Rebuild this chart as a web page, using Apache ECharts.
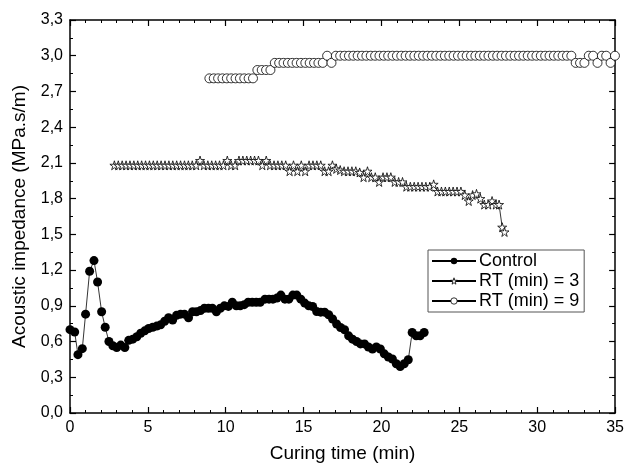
<!DOCTYPE html>
<html lang="en">
<head>
<meta charset="UTF-8">
<title>Acoustic impedance</title>
<script src="https://cdn.jsdelivr.net/npm/echarts@6/dist/echarts.min.js"></script>
</head>
<body style="margin:0">
<div id="main" style="width:627px;height:470px;"></div>
<script>
// [curing time (min), acoustic impedance (MPa.s/m)]
var control = [
  [0, 0.70], [0.3, 0.68], [0.51, 0.49], [0.79, 0.54], [1.0, 0.83], [1.26, 1.19], [1.54, 1.28], [1.77, 1.10],
  [2.03, 0.85], [2.26, 0.72], [2.5, 0.60], [2.75, 0.565], [3.0, 0.55], [3.26, 0.57], [3.52, 0.55], [3.77, 0.61],
  [4.03, 0.62], [4.29, 0.64], [4.54, 0.67], [4.8, 0.69], [5.05, 0.71], [5.31, 0.72], [5.57, 0.73], [5.82, 0.74],
  [6.08, 0.77], [6.33, 0.80], [6.59, 0.78], [6.84, 0.82], [7.1, 0.83], [7.35, 0.83], [7.61, 0.80], [7.87, 0.85],
  [8.12, 0.85], [8.38, 0.86], [8.63, 0.88], [8.89, 0.88], [9.14, 0.88], [9.4, 0.85], [9.65, 0.88], [9.91, 0.90],
  [10.17, 0.895], [10.42, 0.93], [10.68, 0.90], [10.93, 0.90], [11.19, 0.91], [11.44, 0.93], [11.7, 0.93], [11.96, 0.93],
  [12.21, 0.93], [12.52, 0.956], [12.78, 0.956], [13.03, 0.956], [13.29, 0.965], [13.54, 0.99], [13.8, 0.956], [14.05, 0.956],
  [14.31, 0.99], [14.56, 0.99], [14.82, 0.956], [15.07, 0.923], [15.33, 0.90], [15.58, 0.894], [15.84, 0.852], [16.1, 0.847],
  [16.35, 0.847], [16.61, 0.825], [16.86, 0.789], [17.12, 0.747], [17.37, 0.718], [17.63, 0.699], [17.89, 0.648], [18.14, 0.62],
  [18.4, 0.60], [18.65, 0.58], [18.91, 0.58], [19.16, 0.554], [19.42, 0.537], [19.67, 0.554], [19.93, 0.537], [20.18, 0.497],
  [20.44, 0.47], [20.7, 0.453], [20.95, 0.414], [21.2, 0.39], [21.46, 0.414], [21.72, 0.447], [21.97, 0.676], [22.23, 0.648],
  [22.48, 0.648], [22.74, 0.676]
];

var rt3 = [
  [2.85, 2.08], [3.1, 2.08], [3.35, 2.08], [3.6, 2.08], [3.85, 2.08], [4.1, 2.08], [4.35, 2.08], [4.6, 2.08],
  [4.85, 2.08], [5.1, 2.08], [5.35, 2.08], [5.6, 2.08], [5.85, 2.08], [6.1, 2.08], [6.35, 2.08], [6.6, 2.08],
  [6.85, 2.08], [7.1, 2.08], [7.35, 2.08], [7.6, 2.08], [7.85, 2.08], [8.1, 2.08], [8.35, 2.12], [8.6, 2.08],
  [8.85, 2.08], [9.1, 2.08], [9.35, 2.08], [9.6, 2.08], [9.85, 2.08], [10.1, 2.12], [10.35, 2.08], [10.6, 2.08],
  [10.85, 2.12], [11.1, 2.12], [11.35, 2.12], [11.6, 2.12], [11.85, 2.12], [12.1, 2.12], [12.35, 2.08], [12.6, 2.12],
  [12.85, 2.08], [13.1, 2.08], [13.35, 2.08], [13.6, 2.08], [13.85, 2.08], [14.1, 2.03], [14.35, 2.08], [14.6, 2.03],
  [14.85, 2.08], [15.1, 2.03], [15.35, 2.08], [15.6, 2.08], [15.85, 2.08], [16.1, 2.08], [16.35, 2.03], [16.6, 2.03],
  [16.85, 2.08], [17.1, 2.05], [17.35, 2.04], [17.6, 2.03], [17.85, 2.03], [18.1, 2.03], [18.35, 2.03], [18.6, 2.02],
  [18.85, 1.98], [19.1, 2.03], [19.35, 1.98], [19.6, 1.98], [19.85, 1.94], [20.1, 1.98], [20.35, 1.98], [20.6, 1.98],
  [20.85, 1.94], [21.1, 1.94], [21.35, 1.94], [21.6, 1.90], [21.85, 1.90], [22.1, 1.90], [22.35, 1.90], [22.6, 1.90],
  [22.85, 1.90], [23.1, 1.90], [23.35, 1.92], [23.6, 1.86], [23.85, 1.86], [24.1, 1.86], [24.35, 1.86], [24.6, 1.86],
  [24.85, 1.86], [25.1, 1.86], [25.35, 1.83], [25.6, 1.78], [25.85, 1.83], [26.1, 1.84], [26.35, 1.80], [26.6, 1.75],
  [26.85, 1.75], [27.1, 1.78], [27.35, 1.75], [27.55, 1.75], [27.75, 1.56], [27.9, 1.52]
];

var rt9 = [
  [8.95, 2.81], [9.23, 2.81], [9.51, 2.81], [9.79, 2.81], [10.07, 2.81], [10.35, 2.81], [10.63, 2.81], [10.91, 2.81],
  [11.19, 2.81], [11.47, 2.81], [11.75, 2.81], [12.03, 2.88], [12.31, 2.88], [12.59, 2.88], [12.87, 2.88], [13.15, 2.94],
  [13.43, 2.94], [13.71, 2.94], [13.99, 2.94], [14.27, 2.94], [14.55, 2.94], [14.83, 2.94], [15.11, 2.94], [15.39, 2.94],
  [15.67, 2.94], [15.95, 2.94], [16.23, 2.94], [16.51, 3.0], [16.79, 2.94], [17.07, 3.0], [17.35, 3.0], [17.63, 3.0],
  [17.91, 3.0], [18.19, 3.0], [18.47, 3.0], [18.75, 3.0], [19.03, 3.0], [19.31, 3.0], [19.59, 3.0], [19.87, 3.0],
  [20.15, 3.0], [20.43, 3.0], [20.71, 3.0], [20.99, 3.0], [21.27, 3.0], [21.55, 3.0], [21.83, 3.0], [22.11, 3.0],
  [22.39, 3.0], [22.67, 3.0], [22.95, 3.0], [23.23, 3.0], [23.51, 3.0], [23.79, 3.0], [24.07, 3.0], [24.35, 3.0],
  [24.63, 3.0], [24.91, 3.0], [25.19, 3.0], [25.47, 3.0], [25.75, 3.0], [26.03, 3.0], [26.31, 3.0], [26.59, 3.0],
  [26.87, 3.0], [27.15, 3.0], [27.43, 3.0], [27.71, 3.0], [27.99, 3.0], [28.27, 3.0], [28.55, 3.0], [28.83, 3.0],
  [29.11, 3.0], [29.39, 3.0], [29.67, 3.0], [29.95, 3.0], [30.23, 3.0], [30.51, 3.0], [30.79, 3.0], [31.07, 3.0],
  [31.35, 3.0], [31.63, 3.0], [31.91, 3.0], [32.19, 3.0], [32.47, 2.94], [32.75, 2.94], [33.03, 2.94], [33.31, 3.0],
  [33.59, 3.0], [33.87, 2.94], [34.15, 3.0], [34.43, 3.0], [34.71, 2.94], [34.99, 3.0]
];

var seriesNames = ['Control', 'RT (min) = 3', 'RT (min) = 9'];

var myChart = echarts.init(document.getElementById('main'));
var font = 'Liberation Sans';
var star = 'path://M50,0 L61,35 L98,35 L68,57 L79,91 L50,70 L21,91 L32,57 L2,35 L39,35 Z';

function frameAxis(extra) {
  var base = {
    axisLine: { show: true, onZero: false, lineStyle: { color: '#000', width: 1.5 } },
    axisTick: { show: true, inside: true, length: 6, lineStyle: { color: '#000', width: 1.2 } },
    splitLine: { show: false },
    axisLabel: { show: false }
  };
  return Object.assign(base, extra);
}

var openItem = { color: '#fff', borderColor: '#000', borderWidth: 0.8 };

option = {
  animation: false,
  textStyle: { fontFamily: font },
  grid: { left: 70, right: 10, top: 20, bottom: 57 },
  legend: {
    data: [
      { name: seriesNames[0], itemStyle: { color: '#000' } },
      { name: seriesNames[1], itemStyle: openItem },
      { name: seriesNames[2], itemStyle: openItem }
    ],
    orient: 'vertical',
    left: 428,
    top: 250,
    padding: [2, 5, 2, 3],
    itemGap: 2,
    itemWidth: 44,
    itemHeight: 8,
    borderColor: '#555',
    borderWidth: 1,
    textStyle: { fontSize: 18, color: '#000', fontFamily: font, padding: [0, 0, 0, -2] }
  },
  xAxis: [
    frameAxis({
      type: 'value', min: 0, max: 35, interval: 5,
      minorTick: { show: true, splitNumber: 5, length: 3, lineStyle: { color: '#000' } },
      name: 'Curing time (min)', nameLocation: 'middle', nameGap: 31,
      nameTextStyle: { fontSize: 19, color: '#000', fontFamily: font },
      axisLabel: { show: true, color: '#000', fontSize: 16, margin: 7 }
    }),
    frameAxis({
      type: 'value', position: 'top', min: 0, max: 35, interval: 5,
      minorTick: { show: true, splitNumber: 5, length: 3, lineStyle: { color: '#000' } }
    })
  ],
  yAxis: [
    frameAxis({
      type: 'value', min: 0, max: 3.3, interval: 0.3,
      minorTick: { show: true, splitNumber: 2, length: 3, lineStyle: { color: '#000' } },
      name: 'Acoustic impedance (MPa.s/m)', nameLocation: 'middle', nameGap: 41,
      nameTextStyle: { fontSize: 19, color: '#000', fontFamily: font },
      axisLabel: {
        show: true, color: '#000', fontSize: 16, margin: 7,
        formatter: function (v) { return v.toFixed(1).replace('.', ','); }
      }
    }),
    frameAxis({
      type: 'value', position: 'right', min: 0, max: 3.3, interval: 0.3,
      minorTick: { show: true, splitNumber: 2, length: 3, lineStyle: { color: '#000' } }
    })
  ],
  series: [
    {
      name: seriesNames[0], type: 'line', data: control,
      symbol: 'circle', symbolSize: 9,
      itemStyle: { color: '#000' },
      lineStyle: { color: '#000', width: 0.8 }
    },
    {
      name: seriesNames[1], type: 'line', data: rt3,
      symbol: star, symbolSize: 9,
      itemStyle: openItem,
      lineStyle: { color: '#000', width: 0.8 }
    },
    {
      name: seriesNames[2], type: 'line', data: rt9,
      symbol: 'circle', symbolSize: 9,
      itemStyle: openItem,
      lineStyle: { color: '#000', width: 0.8 }
    }
  ]
};

myChart.setOption(option);
</script>
</body>
</html>
